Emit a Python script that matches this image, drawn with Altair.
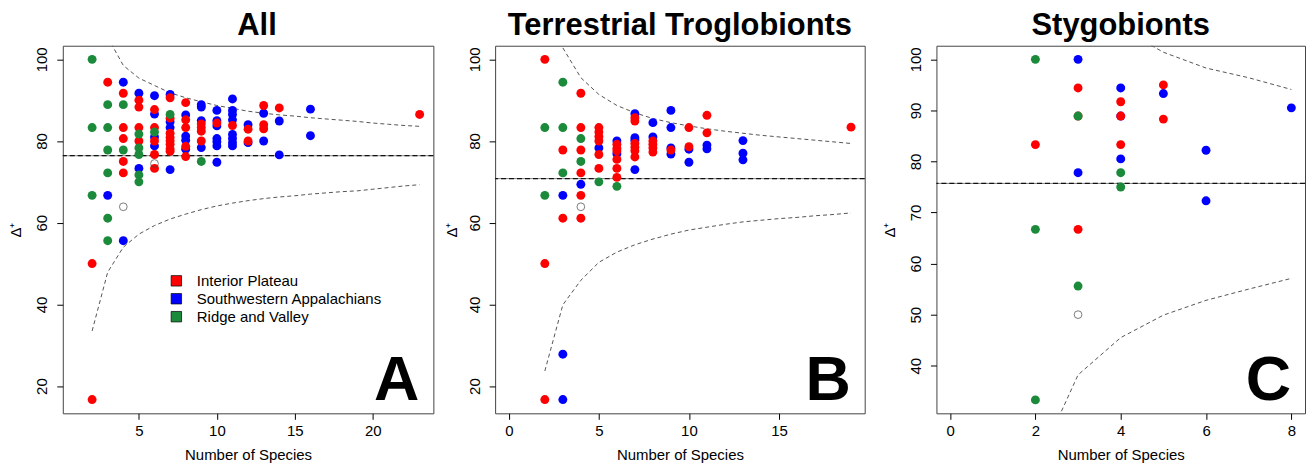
import altair as alt
import pandas as pd

FONT = "Liberation Sans"
REGION_NAMES = {"IP": "Interior Plateau", "SA": "Southwestern Appalachians", "RV": "Ridge and Valley"}
REGIONS = ["Interior Plateau", "Southwestern Appalachians", "Ridge and Valley"]
COLORS = ["#ff0000", "#0000ff", "#1b8a3a"]

# ---------------- Panel A : All ----------------
A_species = [2, 2, 2, 2, 2,
             3, 3, 3, 3, 3, 3, 3, 3,
             4, 4, 4, 4, 4, 4, 4, 4, 4, 4,
             5, 5, 5, 5, 5, 5, 5, 5, 5, 5, 5,
             6, 6, 6, 6, 6, 6, 6, 6, 6, 6, 6,
             7, 7, 7, 7, 7, 7, 7, 7, 7, 7, 7, 7, 7,
             8, 8, 8, 8, 8, 8, 8, 8, 8,
             9, 9, 9, 9, 9, 9, 9, 9, 9,
             10, 10, 10, 10, 10, 10, 10, 10,
             11, 11, 11, 11, 11, 11, 11, 11, 11,
             12, 12, 12, 12,
             13, 13, 13, 13, 13,
             14, 14, 14,
             16, 16,
             23]
A_delta = [100.0, 83.3, 66.7, 50.0, 16.7,
           94.4, 88.9, 83.3, 77.8, 72.2, 66.7, 61.1, 55.6,
           94.4, 91.7, 88.9, 83.3, 80.6, 77.8, 75.0, 72.2, 63.9, 55.6,
           91.7, 90.0, 88.3, 83.3, 81.7, 80.0, 78.3, 76.7, 73.3, 71.7, 70.0,
           91.1, 87.7, 86.6, 83.3, 82.2, 81.0, 80.0, 78.8, 76.7, 74.5, 73.3,
           91.4, 90.6, 86.5, 85.6, 84.7, 83.3, 81.9, 80.9, 80.0, 79.2, 78.1, 77.5, 73.0,
           89.4, 86.4, 85.2, 83.3, 81.2, 80.2, 78.7, 78.0, 76.2,
           88.9, 88.3, 85.0, 84.2, 83.3, 82.4, 80.0, 78.4, 75.0,
           87.5, 85.0, 84.4, 83.7, 80.6, 79.8, 78.8, 74.8,
           90.3, 87.5, 86.5, 85.2, 83.8, 81.6, 80.6, 79.6, 78.8,
           84.0, 82.9, 80.0, 79.6,
           88.7, 86.8, 84.0, 83.0, 80.0,
           88.1, 84.9, 76.6,
           87.8, 81.3,
           86.5]
A_region = ["RV", "RV", "RV", "IP", "IP",
            "IP", "RV", "RV", "RV", "RV", "SA", "RV", "RV",
            "SA", "IP", "RV", "IP", "IP", "RV", "IP", "IP", "NA", "SA",
            "SA", "IP", "IP", "IP", "RV", "IP", "RV", "RV", "SA", "RV", "RV",
            "SA", "IP", "SA", "IP", "RV", "SA", "IP", "SA", "IP", "NA", "IP",
            "SA", "IP", "RV", "IP", "SA", "SA", "IP", "IP", "IP", "IP", "IP", "IP", "SA",
            "IP", "SA", "IP", "IP", "SA", "SA", "IP", "SA", "IP",
            "SA", "SA", "SA", "IP", "IP", "IP", "IP", "SA", "RV",
            "SA", "SA", "IP", "SA", "SA", "SA", "SA", "SA",
            "SA", "SA", "SA", "SA", "IP", "SA", "SA", "SA", "SA",
            "SA", "IP", "IP", "SA",
            "IP", "SA", "IP", "IP", "SA",
            "IP", "SA", "SA",
            "SA", "SA",
            "IP"]
A_mean = 76.4
A_upper_n = list(range(3, 24))
A_upper = [105.4, 98.5, 95.4, 93.6, 91.8, 90.6, 89.6, 88.7, 88.0, 87.3, 86.8,
           86.4, 86.1, 85.7, 85.4, 85.1, 84.8, 84.4, 84.1, 83.8, 83.6]
A_lower_n = list(range(2, 24))
A_lower = [33.5, 47.9, 54.0, 57.2, 59.3, 60.9, 62.1, 63.2, 64.1, 64.8, 65.4, 65.9,
           66.3, 66.6, 67.0, 67.3, 67.6, 67.8, 68.2, 68.6, 69.0, 69.3]

# ---------------- Panel B : Terrestrial Troglobionts ----------------
B_species = [2, 2, 2, 2, 2,
             3, 3, 3, 3, 3, 3, 3, 3,
             4, 4, 4, 4, 4, 4, 4, 4, 4, 4,
             5, 5, 5, 5, 5, 5, 5, 5,
             6, 6, 6, 6, 6, 6, 6, 6, 6,
             7, 7, 7, 7, 7, 7, 7, 7, 7, 7,
             8, 8, 8, 8, 8, 8,
             9, 9, 9, 9, 9,
             10, 10, 10, 10,
             11, 11, 11, 11,
             13, 13, 13,
             19]
B_delta = [100.0, 83.3, 66.7, 50.0, 16.7,
           94.4, 83.3, 77.8, 72.2, 66.7, 61.1, 27.8, 16.7,
           91.7, 83.3, 80.6, 77.8, 75.0, 72.2, 69.4, 66.7, 63.9, 61.1,
           83.3, 82.2, 81.1, 80.0, 78.3, 76.7, 73.3, 70.0,
           80.0, 79.2, 78.2, 77.6, 76.9, 75.5, 73.3, 71.1, 68.9,
           86.7, 85.7, 84.9, 80.8, 80.2, 79.4, 78.5, 77.6, 76.1, 73.0,
           84.5, 81.0, 80.0, 79.2, 78.3, 77.3,
           87.5, 83.3, 78.3, 77.8, 76.8,
           83.3, 78.6, 78.0, 74.8,
           86.3, 82.0, 79.0, 78.1,
           80.1, 77.0, 75.4,
           83.4]
B_region = ["IP", "RV", "RV", "IP", "IP",
            "RV", "RV", "IP", "RV", "SA", "IP", "SA", "SA",
            "IP", "IP", "RV", "IP", "RV", "IP", "SA", "IP", "NA", "IP",
            "IP", "IP", "IP", "IP", "SA", "IP", "IP", "RV",
            "SA", "IP", "IP", "IP", "SA", "IP", "IP", "IP", "RV",
            "SA", "IP", "IP", "SA", "SA", "IP", "IP", "IP", "IP", "SA",
            "SA", "SA", "IP", "IP", "IP", "IP",
            "SA", "SA", "SA", "IP", "SA",
            "IP", "IP", "SA", "SA",
            "IP", "IP", "SA", "SA",
            "SA", "SA", "SA",
            "IP"]
B_mean = 70.8
B_upper_n = list(range(3, 20))
B_upper = [102.8, 95.5, 91.4, 88.7, 86.9, 85.5, 84.5, 83.7, 83.0, 82.4, 81.9,
           81.4, 81.0, 80.6, 80.2, 79.8, 79.4]
B_lower_n = list(range(2, 20))
B_lower = [23.7, 39.9, 45.9, 50.3, 52.8, 54.6, 56.0, 57.2, 58.2, 58.9, 59.6, 60.2,
           60.6, 61.0, 61.3, 61.7, 62.0, 62.4]

# ---------------- Panel C : Stygobionts ----------------
C_species = [2, 2, 2, 2,
             3, 3, 3, 3, 3, 3, 3, 3,
             4, 4, 4, 4, 4, 4, 4, 4,
             5, 5, 5,
             6, 6,
             8]
C_delta = [100.0, 83.3, 66.7, 33.3,
           100.0, 94.4, 88.9, 88.9, 77.8, 66.7, 55.6, 50.0,
           94.4, 91.7, 88.9, 88.9, 83.3, 80.5, 77.8, 75.0,
           95.0, 93.3, 88.3,
           82.2, 72.3,
           90.5]
C_region = ["RV", "IP", "RV", "RV",
            "SA", "IP", "IP", "RV", "SA", "IP", "RV", "NA",
            "SA", "IP", "SA", "IP", "IP", "SA", "RV", "RV",
            "IP", "SA", "IP",
            "SA", "SA",
            "SA"]
C_mean = 75.7
C_upper_n = [4, 5, 6, 7, 8]
C_upper = [106.1, 101.4, 98.3, 96.4, 94.1]
C_lower_n = [2, 3, 4, 5, 6, 7, 8]
C_lower = [19.9, 38.2, 45.5, 49.9, 52.8, 55.0, 57.1]

HEIGHT = 369
DRAW_RANK = {"SA": 0, "IP": 1, "RV": 2, "NA": 3}


def make_panel(species, delta, region, mean, un, fup, ln, flo, title, letter,
               xdom, xticks, ydom, yticks, width, title_dx, ytitle_x, legend):
    df = pd.DataFrame({"n": species, "d": delta, "code": region})
    df["rank"] = df["code"].map(DRAW_RANK)
    df = df.sort_values("rank", kind="stable")
    filled = df[df["code"] != "NA"].copy()
    filled["r"] = filled["code"].map(REGION_NAMES)
    hollow = df[df["code"] == "NA"]

    xs = alt.Scale(domain=xdom, nice=False, zero=False)
    ys = alt.Scale(domain=ydom, nice=False, zero=False)
    xax = alt.Axis(values=xticks, tickSize=6, labelPadding=4, titleY=41,
                   titleBaseline="middle")
    yax = alt.Axis(values=yticks, tickSize=6, labelPadding=10, labelAngle=270,
                   labelAlign="center", labelBaseline="alphabetic",
                   titleAngle=270, titleX=ytitle_x, titleY=HEIGHT / 2,
                   titleBaseline="middle", titleAlign="center")
    X = alt.X("n:Q", scale=xs, axis=xax, title="Number of Species")
    Y = alt.Y("d:Q", scale=ys, axis=yax, title="Δ⁺")

    mean_df = pd.DataFrame({"d": [mean]})
    mean_solid = alt.Chart(mean_df).mark_rule(color="#888888", strokeWidth=1).encode(y=Y)
    mean_dash = alt.Chart(mean_df).mark_rule(color="#111111", strokeWidth=1.2,
                                             strokeDash=[5, 3]).encode(y=Y)

    fdf = pd.DataFrame({"n": un + ln, "d": fup + flo,
                        "side": ["upper"] * len(un) + ["lower"] * len(ln)})
    funnel = alt.Chart(fdf).mark_line(color="#555555", strokeWidth=1,
                                      strokeDash=[4, 3], clip=True).encode(
        x=X, y=Y, detail="side:N")

    pts = alt.Chart(filled).mark_circle(size=80, opacity=1).encode(
        x=X, y=Y,
        color=alt.Color("r:N", scale=alt.Scale(domain=REGIONS, range=COLORS),
                        legend=legend),
    )
    open_pts = alt.Chart(hollow).mark_point(shape="circle", filled=False,
                                            color="#444444", size=60,
                                            strokeWidth=1).encode(x=X, y=Y)

    letter_layer = alt.Chart(pd.DataFrame({"t": [letter]})).mark_text(
        font=FONT, fontSize=63, fontWeight="bold", align="right",
        baseline="alphabetic", color="black").encode(
        x=alt.value(width - 14), y=alt.value(HEIGHT - 13), text="t:N")

    title_layer = alt.Chart(pd.DataFrame({"t": [title]})).mark_text(
        font=FONT, fontSize=31, fontWeight="bold", align="center",
        baseline="alphabetic", color="black").encode(
        x=alt.value(width / 2 + title_dx), y=alt.value(-11), text="t:N")

    return alt.layer(mean_solid, mean_dash, funnel, pts, open_pts, letter_layer,
                     title_layer).properties(width=width, height=HEIGHT)


legend_a = alt.Legend(orient="none", legendX=106.5, legendY=228.5, title=None,
                      symbolType="square", symbolSize=110, symbolStrokeColor="black",
                      symbolStrokeWidth=0.7, symbolOpacity=1, labelFont=FONT,
                      labelFontSize=15, labelColor="black", labelOffset=13,
                      rowPadding=2, padding=0, labelLimit=400)

panel_a = make_panel(A_species, A_delta, A_region, A_mean, A_upper_n, A_upper,
                     A_lower_n, A_lower,
                     "All", "A", [0.12, 23.88], [5, 10, 15, 20], [13.33, 103.33],
                     [20, 40, 60, 80, 100], 372, 9, -47, legend_a)
panel_b = make_panel(B_species, B_delta, B_region, B_mean, B_upper_n, B_upper,
                     B_lower_n, B_lower,
                     "Terrestrial Troglobionts", "B", [-0.76, 19.76], [0, 5, 10, 15],
                     [13.33, 103.33], [20, 40, 60, 80, 100], 371, 0, -44, None)
panel_c = make_panel(C_species, C_delta, C_region, C_mean, C_upper_n, C_upper,
                     C_lower_n, C_lower,
                     "Stygobionts", "C", [-0.32, 8.32], [0, 2, 4, 6, 8],
                     [30.67, 102.67], [40, 50, 60, 70, 80, 90, 100], 370, 0, -47, None)

inner = alt.hconcat(panel_a, panel_b, spacing=62, bounds="flush").resolve_scale(
    color="independent").resolve_legend(color="independent")
chart = alt.hconcat(inner, panel_c, spacing=15, bounds="full").resolve_scale(
    color="independent").resolve_legend(color="independent").properties(
    padding={"left": 0, "top": 0, "right": 0, "bottom": 0}
).configure_axis(
    grid=False, domain=False, labelFont=FONT, titleFont=FONT, labelColor="black",
    titleColor="black", tickColor="black", labelFontSize=15, titleFontSize=15,
    titleFontWeight="normal"
).configure_view(stroke="#444444", strokeWidth=1)

chart.save("out.html", embed_options={"renderer": "svg", "actions": False})
